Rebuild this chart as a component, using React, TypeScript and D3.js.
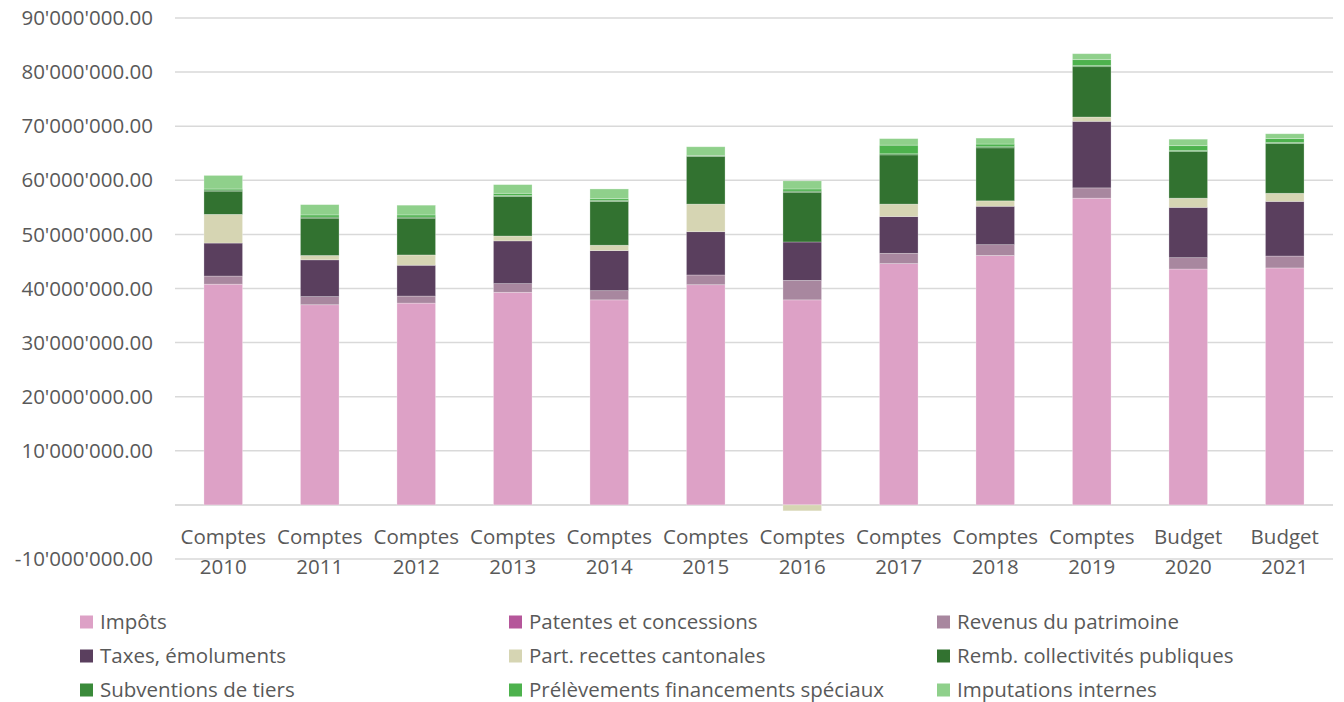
import React from "react";
import * as d3 from "d3";

const categories = [
  "Comptes 2010", "Comptes 2011", "Comptes 2012", "Comptes 2013", "Comptes 2014", "Comptes 2015",
  "Comptes 2016", "Comptes 2017", "Comptes 2018", "Comptes 2019", "Budget 2020", "Budget 2021",
];

const seriesNames = [
  "Impôts", "Patentes et concessions", "Revenus du patrimoine",
  "Taxes, émoluments", "Part. recettes cantonales", "Remb. collectivités publiques",
  "Subventions de tiers", "Prélèvements financements spéciaux", "Imputations internes",
];

const seriesColors = ["#DDA1C6", "#B5569A", "#A8879F", "#5A3F5E", "#D6D5B3", "#327230", "#3A8A3A", "#4DB24D", "#8FD08B"];

// values in millions
const impots = [40.8, 37.0, 37.3, 39.3, 37.9, 40.7, 37.9, 44.6, 46.1, 56.7, 43.6, 43.8];
const patentes = [0, 0, 0, 0, 0, 0, 0, 0, 0, 0, 0, 0];
const revenus = [1.5, 1.5, 1.3, 1.6, 1.7, 1.8, 3.6, 1.9, 2.0, 1.9, 2.1, 2.2];
const taxes = [6.1, 6.8, 5.7, 7.9, 7.4, 8.0, 7.1, 6.8, 7.1, 12.3, 9.3, 10.1];
const partCantonales = [5.3, 0.8, 1.9, 0.9, 1.0, 5.1, -1.1, 2.3, 1.0, 0.8, 1.7, 1.5];
const remb = [4.3, 6.9, 6.8, 7.3, 8.1, 8.8, 9.2, 9.1, 9.8, 9.3, 8.6, 9.2];
const subventions = [0.2, 0.2, 0.2, 0.2, 0.2, 0.2, 0.2, 0.2, 0.2, 0.2, 0.2, 0.2];
const prelevements = [0.2, 0.4, 0.4, 0.4, 0.3, 0.0, 0.4, 1.6, 0.5, 1.1, 0.9, 0.7];
const imputations = [2.5, 1.9, 1.8, 1.6, 1.8, 1.6, 1.5, 1.2, 1.1, 1.1, 1.2, 0.9];

const yTicks = [-10, 0, 10, 20, 30, 40, 50, 60, 70, 80, 90];

const seriesValues = [impots, patentes, revenus, taxes, partCantonales, remb, subventions, prelevements, imputations];

const FONT = "'Open Sans', sans-serif";
const TEXT_COLOR = "#595959";
const FS = 20.5;

function fmt(v: number) {
  if (v === 0) return "";
  const n = Math.abs(v) * 1000000;
  const s = d3.format(",.2f")(n).replace(/,/g, "'");
  return (v < 0 ? "-" : "") + s;
}

export default function App() {
  const width = 1344;
  const height = 702;
  const left = 175;
  const right = 1333;

  const x = d3.scaleBand<string>().domain(categories).range([left, right]).paddingInner(0.6).paddingOuter(0.3);
  const y = d3.scaleLinear().domain([-10, 90]).range([559, 18]);

  const table = categories.map((c, i) => {
    const row: any = { cat: c };
    seriesNames.forEach((s, k) => (row[s] = seriesValues[k][i]));
    return row;
  });
  const stack = d3.stack<any>().keys(seriesNames).offset(d3.stackOffsetDiverging);
  const layers = stack(table);

  const legendCols = [80, 509, 937];
  const legendRows = [622, 656, 690];

  return (
    <svg width={width} height={height} style={{ position: "absolute", left: 0, top: 0, background: "#fff" }}>
      {yTicks.map((t) => (
        <line key={"g" + t} x1={left} x2={right} y1={y(t)} y2={y(t)} stroke={t === 0 ? "#d0d0d0" : "#d9d9d9"} strokeWidth={1.5} />
      ))}
      {yTicks.map((t) => (
        <text key={"t" + t} x={153} y={y(t)} dy="0.35em" textAnchor="end" fontFamily={FONT} fontSize={FS} fill={TEXT_COLOR}>
          {fmt(t)}
        </text>
      ))}
      {layers.map((layer, k) => (
        <g key={layer.key} fill={seriesColors[k]}>
          {layer.map((d, i) => {
            const h = Math.abs(y(d[0]) - y(d[1]));
            if (h < 0.01) return null;
            return (
              <rect
                key={i}
                x={x(categories[i])!}
                width={x.bandwidth()}
                y={Math.min(y(d[0]), y(d[1]))}
                height={h}
                stroke="#ffffff"
                strokeOpacity={0.35}
                strokeWidth={0.75}
              />
            );
          })}
        </g>
      ))}
      {categories.map((c) => {
        const [w1, w2] = c.split(" ");
        const cx = x(c)! + x.bandwidth() / 2;
        return (
          <g key={"c" + c} fontFamily={FONT} fontSize={FS} fill={TEXT_COLOR} textAnchor="middle">
            <text x={cx} y={537} dy="0.35em">{w1}</text>
            <text x={cx} y={567} dy="0.35em">{w2}</text>
          </g>
        );
      })}
      {seriesNames.map((s, k) => {
        const col = k % 3;
        const row = Math.floor(k / 3);
        const lx = legendCols[col];
        const ly = legendRows[row];
        return (
          <g key={"l" + s}>
            <rect x={lx} y={ly - 6.5} width={13} height={13} fill={seriesColors[k]} />
            <text x={lx + 20} y={ly} dy="0.35em" fontFamily={FONT} fontSize={FS} fill={TEXT_COLOR}>
              {s}
            </text>
          </g>
        );
      })}
    </svg>
  );
}
